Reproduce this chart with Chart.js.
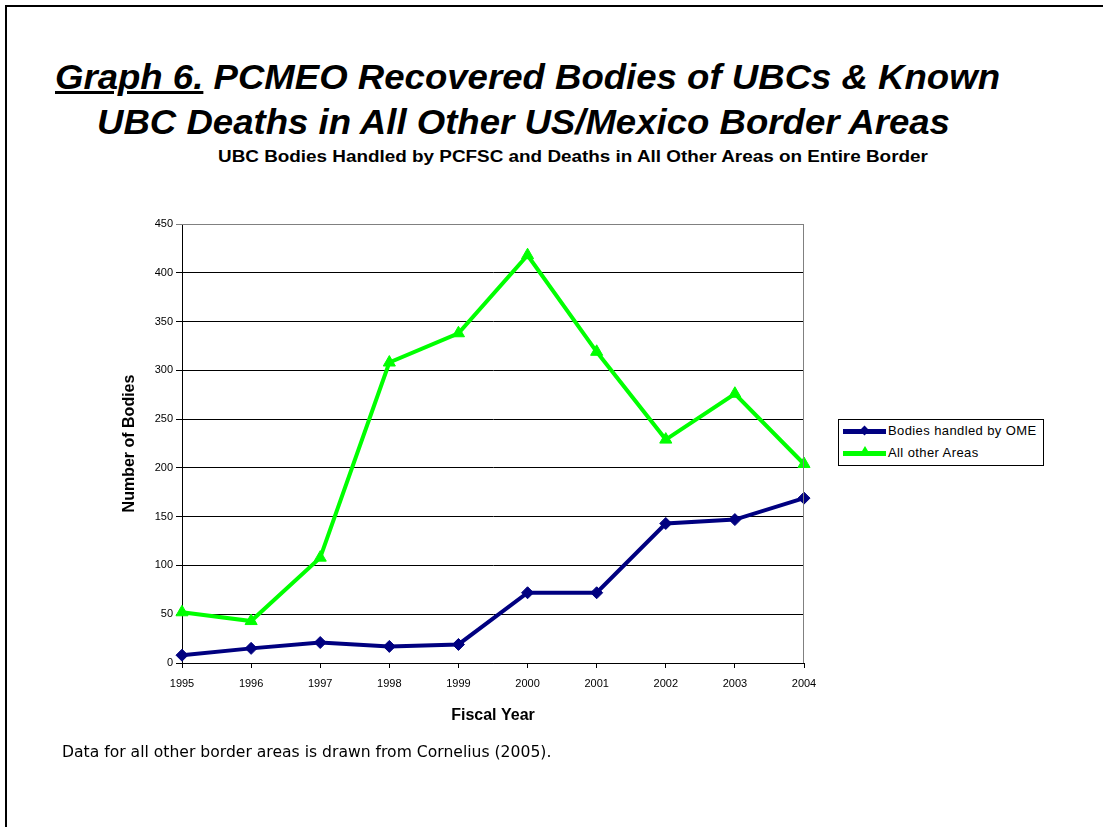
<!DOCTYPE html>
<html>
<head>
<meta charset="utf-8">
<script src="https://cdn.jsdelivr.net/npm/chart.js@4/dist/chart.umd.min.js"></script>
<style>
  html, body { margin:0; padding:0; background:#fff; }
  body { width:1103px; height:827px; position:relative; overflow:hidden; font-family:"Liberation Sans", Arial, sans-serif; }
  #frame { position:absolute; left:5px; top:5px; width:1200px; height:900px; border-left:2px solid #000; border-top:2px solid #000; }
  .t { position:absolute; white-space:nowrap; color:#000; transform-origin:0 0; }
  .big { font-size:35px; font-weight:bold; font-style:italic; line-height:1; transform:scaleX(1.045); }
  #t1 { left:55px; top:59px; }
  #t2 { left:97px; top:104px; }
  #sub { left:218px; top:149px; font-size:16px; font-weight:bold; line-height:1; transform:scaleX(1.18); }
  #foot { left:62px; top:743px; font-family:"DejaVu Sans", Verdana, sans-serif; font-size:15px; transform:scaleX(1.04); }
  #wrap { position:absolute; left:0; top:0; width:1103px; height:827px; }
  #legend { position:absolute; left:838px; top:419px; width:204px; height:45px; border:1px solid #000; background:#fff; font-size:13px; letter-spacing:0.4px; }
  .row { position:absolute; left:4px; height:16px; width:196px; }
  .row .ln { position:absolute; left:0; top:6px; width:43px; height:5px; }
  .row .dia { position:absolute; left:18px; top:4px; width:7px; height:7px; transform:rotate(45deg); }
  .row .tri { position:absolute; left:16px; top:1px; width:0; height:0; border-left:6px solid transparent; border-right:6px solid transparent; border-bottom:10px solid #00ff00; }
  .row .lab { position:absolute; left:45px; top:0px; white-space:nowrap; }
</style>
</head>
<body>
<div id="frame"></div>
<div class="t big" id="t1"><span style="text-decoration:underline">Graph 6.</span> PCMEO Recovered Bodies of UBCs &amp; Known</div>
<div class="t big" id="t2">UBC Deaths in All Other US/Mexico Border Areas</div>
<div class="t" id="sub">UBC Bodies Handled by PCFSC and Deaths in All Other Areas on Entire Border</div>
<div id="wrap"><canvas id="c" width="1103" height="827"></canvas></div>
<div id="legend">
  <div class="row" style="top:3px"><div class="ln" style="background:#000080"></div><div class="dia" style="background:#000080"></div><div class="lab">Bodies handled by OME</div></div>
  <div class="row" style="top:25px"><div class="ln" style="background:#00ff00"></div><div class="tri"></div><div class="lab">All other Areas</div></div>
</div>
<div class="t" id="foot">Data for all other border areas is drawn from Cornelius (2005).</div>
<script>
const years = ["1995","1996","1997","1998","1999","2000","2001","2002","2003","2004"];
const bodiesOME = [8, 15, 21, 17, 19, 72, 72, 143, 147, 169];
const otherAreas = [52, 43, 108, 308, 338, 418, 319, 229, 276, 204];
const seriesNames = ["Bodies handled by OME", "All other Areas"];

const frameBorder = {
  id: 'frameBorder',
  afterDraw(chart) {
    const a = chart.chartArea, ctx = chart.ctx;
    ctx.save();
    ctx.strokeStyle = '#808080';
    ctx.lineWidth = 1;
    ctx.beginPath();
    ctx.moveTo(a.left, a.top + 0.5);
    ctx.lineTo(a.right - 0.5, a.top + 0.5);
    ctx.lineTo(a.right - 0.5, a.bottom);
    ctx.stroke();
    ctx.restore();
  }
};

Chart.defaults.font.family = '"Liberation Sans", Arial, sans-serif';
Chart.defaults.color = '#000';

new Chart(document.getElementById('c'), {
  type: 'line',
  data: {
    labels: years,
    datasets: [
      { label: seriesNames[0], data: bodiesOME, borderColor: '#000080', backgroundColor: '#000080',
        borderWidth: 4, pointStyle: 'rectRot', pointRadius: 6, pointBorderWidth: 1, tension: 0 },
      { label: seriesNames[1], data: otherAreas, borderColor: '#00ff00', backgroundColor: '#00ff00',
        borderWidth: 4, pointStyle: 'triangle', pointRadius: 7, pointBorderWidth: 1, tension: 0 }
    ]
  },
  options: {
    responsive: false,
    animation: false,
    layout: { padding: { left: 120, right: 299, top: 224, bottom: 102 } },
    plugins: { legend: { display: false }, tooltip: { enabled: false }, title: { display: false } },
    scales: {
      x: {
        offset: false,
        grid: { drawOnChartArea: false, drawTicks: true, tickLength: 5, color: '#000' },
        border: { color: '#000', width: 1 },
        ticks: { font: { size: 11 }, padding: 9, maxRotation: 0, autoSkip: false },
        title: { display: true, text: 'Fiscal Year', font: { size: 16, weight: 'bold' }, padding: 0 },
        afterFit(s) { s.height = 62; }
      },
      y: {
        min: 0, max: 450,
        grid: { color: (c) => c.tick && c.tick.value === 450 ? '#808080' : '#000', tickLength: 6, drawTicks: true },
        border: { color: '#000', width: 1 },
        ticks: { stepSize: 50, font: { size: 11 }, padding: 3 },
        title: { display: true, text: 'Number of Bodies', font: { size: 16, weight: 'bold' }, padding: 0 },
        afterFit(s) { s.width = 62; }
      }
    }
  },
  plugins: [frameBorder]
});
</script>
</body>
</html>
